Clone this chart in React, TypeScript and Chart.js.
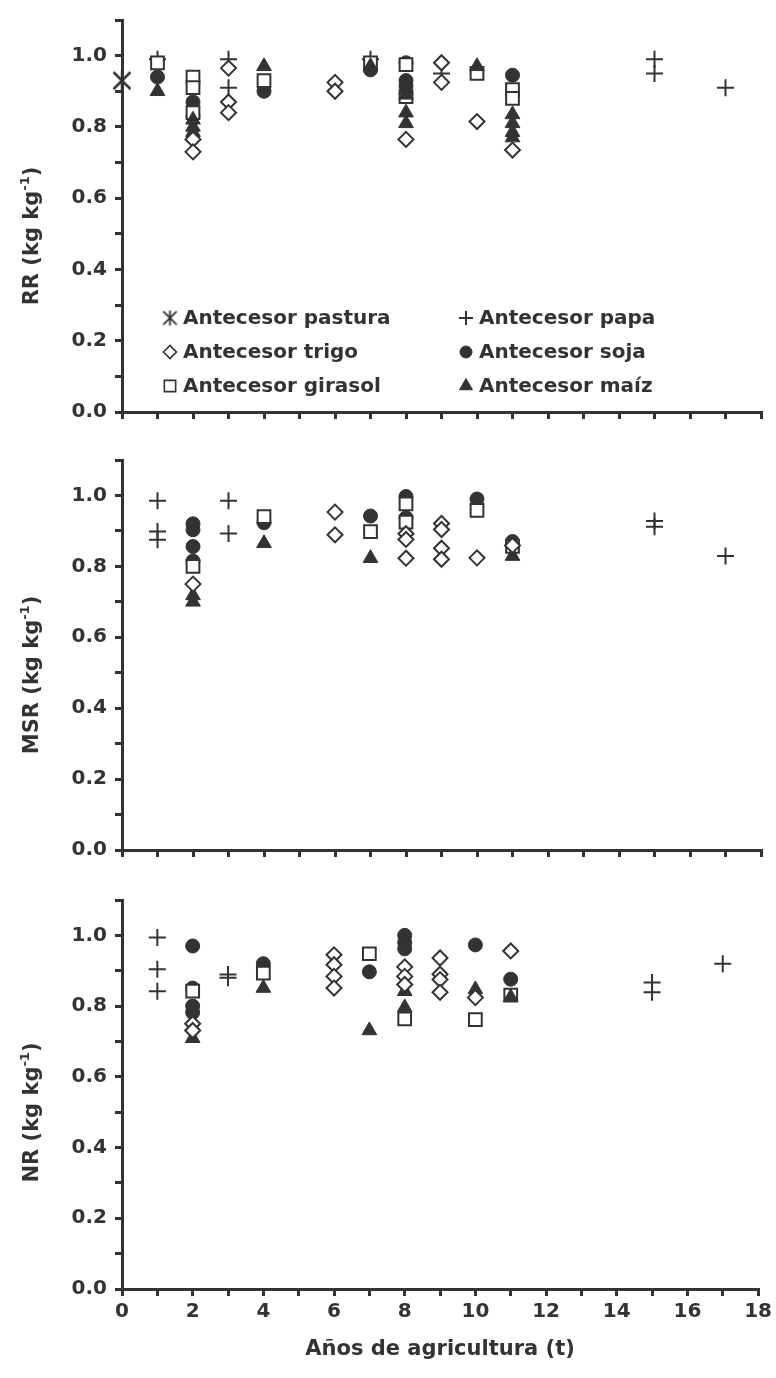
import React, { useEffect, useRef } from "react";
import { Chart, registerables } from "chart.js";
import { drawPoint } from "chart.js/helpers";

Chart.register(...registerables);

type Pt = [number, number];

// ---------------- DATA ----------------
const SERIES_NAMES = [
  "Antecesor pastura",
  "Antecesor papa",
  "Antecesor trigo",
  "Antecesor soja",
  "Antecesor girasol",
  "Antecesor maíz",
];

const X_TICK_LABELS = ["0", "2", "4", "6", "8", "10", "12", "14", "16", "18"];
const Y_TICK_LABELS = ["0.0", "0.2", "0.4", "0.6", "0.8", "1.0"];
const X_TITLE = "Años de agricultura (t)";
const PANEL_NAMES = ["RR", "MSR", "NR"];

// RR panel
const RR_PASTURA: Pt[] = [[0, 0.93]];
const RR_PAPA: Pt[] = [[1, 0.99], [3, 0.99], [3, 0.91], [7, 0.99], [9, 0.95], [15, 0.99], [15, 0.95], [17, 0.91]];
const RR_TRIGO: Pt[] = [[2, 0.765], [2, 0.73], [3, 0.965], [3, 0.87], [3, 0.84], [6, 0.925], [6, 0.9], [8, 0.765], [9, 0.98], [9, 0.925], [10, 0.815], [11, 0.735]];
const RR_SOJA: Pt[] = [[1, 0.94], [2, 0.87], [2, 0.83], [4, 0.9], [7, 0.96], [8, 0.98], [8, 0.93], [8, 0.915], [11, 0.945]];
const RR_GIRASOL: Pt[] = [[1, 0.98], [2, 0.94], [2, 0.91], [2, 0.84], [4, 0.93], [7, 0.98], [8, 0.975], [8, 0.885], [10, 0.95], [11, 0.905], [11, 0.88]];
const RR_MAIZ: Pt[] = [[1, 0.9], [2, 0.82], [2, 0.8], [2, 0.785], [4, 0.97], [7, 0.97], [8, 0.905], [8, 0.89], [8, 0.84], [8, 0.81], [10, 0.97], [11, 0.835], [11, 0.81], [11, 0.785], [11, 0.77]];

// MSR panel
const MSR_PASTURA: Pt[] = [];
const MSR_PAPA: Pt[] = [[1, 0.985], [1, 0.898], [1, 0.875], [3, 0.985], [3, 0.893], [15, 0.928], [15, 0.912], [17, 0.829]];
const MSR_TRIGO: Pt[] = [[2, 0.75], [6, 0.953], [6, 0.889], [8, 0.892], [8, 0.876], [8, 0.823], [9, 0.921], [9, 0.904], [9, 0.851], [9, 0.82], [10, 0.824], [11, 0.859]];
const MSR_SOJA: Pt[] = [[2, 0.92], [2, 0.903], [2, 0.856], [2, 0.815], [4, 0.923], [7, 0.942], [8, 0.997], [8, 0.937], [10, 0.99], [11, 0.87]];
const MSR_GIRASOL: Pt[] = [[2, 0.8], [4, 0.94], [7, 0.898], [8, 0.976], [8, 0.925], [10, 0.958], [11, 0.856]];
const MSR_MAIZ: Pt[] = [[2, 0.718], [2, 0.7], [4, 0.865], [7, 0.823], [11, 0.829]];

// NR panel
const NR_PASTURA: Pt[] = [];
const NR_PAPA: Pt[] = [[1, 0.994], [1, 0.904], [1, 0.842], [3, 0.889], [3, 0.88], [15, 0.867], [15, 0.839], [17, 0.92]];
const NR_TRIGO: Pt[] = [[2, 0.75], [2, 0.731], [6, 0.945], [6, 0.917], [6, 0.884], [6, 0.851], [8, 0.911], [8, 0.884], [8, 0.861], [9, 0.936], [9, 0.89], [9, 0.875], [9, 0.839], [10, 0.824], [11, 0.956]];
const NR_SOJA: Pt[] = [[2, 0.97], [2, 0.851], [2, 0.8], [2, 0.782], [4, 0.92], [7, 0.897], [8, 1.0], [8, 0.98], [8, 0.962], [10, 0.973], [11, 0.876]];
const NR_GIRASOL: Pt[] = [[2, 0.842], [4, 0.893], [7, 0.948], [8, 0.764], [10, 0.762], [11, 0.831]];
const NR_MAIZ: Pt[] = [[2, 0.709], [4, 0.851], [7, 0.731], [8, 0.842], [8, 0.796], [10, 0.847], [11, 0.825]];

const RR_DATA = [RR_PASTURA, RR_PAPA, RR_TRIGO, RR_SOJA, RR_GIRASOL, RR_MAIZ];
const MSR_DATA = [MSR_PASTURA, MSR_PAPA, MSR_TRIGO, MSR_SOJA, MSR_GIRASOL, MSR_MAIZ];
const NR_DATA = [NR_PASTURA, NR_PAPA, NR_TRIGO, NR_SOJA, NR_GIRASOL, NR_MAIZ];

// ---------------- STYLE ----------------
const INK = "#333333";
const FF = "'DejaVu Sans', Verdana, sans-serif";
const TICK_FONT = 20;
const LEGEND_FONT = 20;
const YTITLE_FONT = 21;

const AXIS_X = 122; // page x of y axis
const RIGHT_PAD = 15;

function makeAsterisk(size: number, lw: number): HTMLCanvasElement {
  const c = document.createElement("canvas");
  c.width = size;
  c.height = size;
  const g = c.getContext("2d")!;
  const p = lw;
  g.strokeStyle = INK;
  g.lineWidth = lw;
  g.lineCap = "butt";
  g.beginPath();
  g.moveTo(p, p);
  g.lineTo(size - p, size - p);
  g.moveTo(size - p, p);
  g.lineTo(p, size - p);
  g.moveTo(size / 2, p * 0.5);
  g.lineTo(size / 2, size - p * 0.5);
  g.stroke();
  return c;
}

type MarkStyle = { style: any; radius: number; fill: string; bw: number; order: number; lRadius: number; lStyle?: any };

function markerStyles(): MarkStyle[] {
  return [
    { style: makeAsterisk(22, 2.5), radius: 11, fill: INK, bw: 2, order: 5, lRadius: 8, lStyle: makeAsterisk(17, 1.8) },
    { style: "cross", radius: 8.5, fill: INK, bw: 2, order: 4, lRadius: 7 },
    { style: "rectRot", radius: 7.5, fill: "#ffffff", bw: 2, order: 0, lRadius: 6.5 },
    { style: "circle", radius: 7, fill: INK, bw: 1, order: 3, lRadius: 6 },
    { style: "rect", radius: 9, fill: "#ffffff", bw: 2, order: 2, lRadius: 8 },
    { style: "triangle", radius: 8.5, fill: INK, bw: 1, order: 1, lRadius: 7.5 },
  ];
}

type PanelCfg = {
  name: string;
  data: Pt[][];
  top: number; // canvas page top
  height: number; // canvas height
  padTop: number;
  xHeight: number;
  showXLabels: boolean;
  legend: boolean;
  titleShift: number;
};

const PANELS: PanelCfg[] = [
  { name: PANEL_NAMES[0], data: RR_DATA, top: 0, height: 440, padTop: 13, xHeight: 28, showXLabels: false, legend: true, titleShift: 20 },
  { name: PANEL_NAMES[1], data: MSR_DATA, top: 440, height: 440, padTop: 12, xHeight: 30, showXLabels: false, legend: false, titleShift: 20 },
  { name: PANEL_NAMES[2], data: NR_DATA, top: 880, height: 498, padTop: 12, xHeight: 89, showXLabels: true, legend: false, titleShift: 18 },
];

const LEGEND_ORDER = [0, 1, 2, 3, 4, 5];
const LEGEND_COL_X = [170, 466];
const LEGEND_TEXT_DX = 13;
const LEGEND_ROW_Y = [318, 352, 386];

function yTitlePlugin(label: string, shift: number) {
  return {
    id: "yTitle",
    afterDraw(chart: any) {
      const ctx = chart.ctx as CanvasRenderingContext2D;
      const { top, bottom } = chart.chartArea;
      const cy = (top + bottom) / 2 + shift;
      const main = `bold ${YTITLE_FONT}px ${FF}`;
      const sup = `bold 13px ${FF}`;
      const a = label + " (kg kg";
      const b = "-1";
      const c = ")";
      ctx.save();
      ctx.translate(38, cy);
      ctx.rotate(-Math.PI / 2);
      ctx.fillStyle = INK;
      ctx.textBaseline = "alphabetic";
      ctx.textAlign = "left";
      ctx.font = main;
      const wa = ctx.measureText(a).width;
      const wc = ctx.measureText(c).width;
      ctx.font = sup;
      const wb = ctx.measureText(b).width;
      let x = -(wa + wb + wc) / 2;
      ctx.font = main;
      ctx.fillText(a, x, 0);
      x += wa;
      ctx.font = sup;
      ctx.fillText(b, x, -9);
      x += wb;
      ctx.font = main;
      ctx.fillText(c, x, 0);
      ctx.restore();
    },
  };
}

function legendPlugin(styles: MarkStyle[], canvasTop: number) {
  return {
    id: "insideLegend",
    afterDraw(chart: any) {
      const ctx = chart.ctx as CanvasRenderingContext2D;
      ctx.save();
      LEGEND_ORDER.forEach((si, k) => {
        const col = k % 2;
        const row = Math.floor(k / 2);
        const x = LEGEND_COL_X[col];
        const y = LEGEND_ROW_Y[row] - canvasTop;
        const st = styles[si];
        ctx.fillStyle = st.fill;
        ctx.strokeStyle = INK;
        ctx.lineWidth = st.style === "rectRot" || st.style === "rect" ? 1.6 : st.bw;
        drawPoint(ctx, { pointStyle: st.lStyle || st.style, radius: st.lRadius, borderWidth: st.bw, rotation: 0 } as any, x, y);
        ctx.fillStyle = INK;
        ctx.font = `bold ${LEGEND_FONT}px ${FF}`;
        ctx.textBaseline = "middle";
        ctx.textAlign = "left";
        ctx.fillText(SERIES_NAMES[si], x + LEGEND_TEXT_DX, y + 1);
      });
      ctx.restore();
    },
  };
}

function yLabel(v: number): string {
  const idx = Math.round(v * 10);
  if (idx % 2 === 0 && idx / 2 < Y_TICK_LABELS.length) return Y_TICK_LABELS[idx / 2];
  return "";
}

function buildConfig(p: PanelCfg): any {
  const styles = markerStyles();
  const gridCommon = {
    display: true,
    drawOnChartArea: false,
    drawTicks: true,
    tickLength: 7,
    tickWidth: 3,
    tickColor: INK,
    color: INK,
    lineWidth: 3,
  };
  const tickFont = { family: FF, size: TICK_FONT, weight: "bold" };
  const plugins: any[] = [yTitlePlugin(p.name, p.titleShift)];
  if (p.legend) plugins.push(legendPlugin(styles, p.top));
  return {
    type: "scatter",
    data: {
      datasets: SERIES_NAMES.map((name, i) => ({
        label: name,
        data: p.data[i].map(([x, y]) => ({ x, y })),
        pointStyle: styles[i].style,
        pointRadius: styles[i].radius,
        pointBackgroundColor: styles[i].fill,
        pointBorderColor: INK,
        pointBorderWidth: styles[i].bw,
        order: styles[i].order,
        clip: false,
      })),
    },
    options: {
      animation: false,
      responsive: false,
      maintainAspectRatio: false,
      events: [],
      layout: { padding: { top: p.padTop, right: RIGHT_PAD, left: 0, bottom: 0 } },
      plugins: { legend: { display: false }, tooltip: { enabled: false }, title: { display: false } },
      scales: {
        x: {
          type: "linear",
          min: 0,
          max: 18,
          afterFit: (s: any) => {
            s.height = p.xHeight;
          },
          ticks: {
            stepSize: 1,
            autoSkip: false,
            maxRotation: 0,
            minRotation: 0,
            color: INK,
            font: tickFont,
            padding: 4,
            callback: (v: number) => (p.showXLabels && v % 2 === 0 ? X_TICK_LABELS[v / 2] : ""),
          },
          grid: gridCommon,
          border: { display: true, color: INK, width: 3 },
          title: p.showXLabels
            ? { display: true, text: X_TITLE, color: INK, font: { family: FF, size: 21, weight: "bold" }, padding: { top: 0, bottom: 16 } }
            : { display: false },
        },
        y: {
          type: "linear",
          min: 0,
          max: 1.1,
          afterFit: (s: any) => {
            s.width = AXIS_X;
          },
          ticks: {
            stepSize: 0.1,
            autoSkip: false,
            color: INK,
            font: tickFont,
            padding: 8,
            callback: (v: number) => yLabel(v),
          },
          grid: gridCommon,
          border: { display: true, color: INK, width: 3 },
        },
      },
    },
    plugins,
  };
}

function Panel({ cfg }: { cfg: PanelCfg }) {
  const ref = useRef<HTMLCanvasElement>(null);
  useEffect(() => {
    const chart = new Chart(ref.current!, buildConfig(cfg));
    return () => chart.destroy();
  }, [cfg]);
  return (
    <canvas
      ref={ref}
      width={776}
      height={cfg.height}
      style={{ position: "absolute", left: 0, top: cfg.top, width: 776, height: cfg.height, display: "block" }}
    />
  );
}

export default function App() {
  return (
    <div style={{ position: "absolute", left: 0, top: 0, width: 776, height: 1378, background: "#ffffff", overflow: "hidden" }}>
      {PANELS.map((p) => (
        <Panel key={p.name} cfg={p} />
      ))}
    </div>
  );
}
